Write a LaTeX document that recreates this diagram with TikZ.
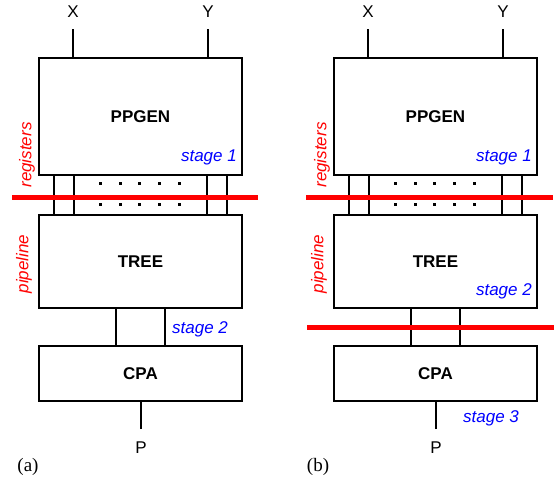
\documentclass[tikz,border=0pt]{standalone}
\usepackage{fontspec}
\setmainfont{Liberation Sans}
\newfontfamily\capfont{Liberation Serif}
\tikzset{
  blk/.style={draw=black, line width=1.6pt, inner sep=0pt, minimum width=203pt, font=\fontsize{17}{19}\selectfont\bfseries},
  wire/.style={draw=black, line width=1.7pt},
  reg/.style={draw=red, line width=5pt},
  stagelbl/.style={text=blue, inner sep=0pt, font=\fontsize{17}{19}\selectfont\itshape},
  redlbl/.style={text=red, inner sep=0pt, rotate=90, font=\fontsize{17}{19}\selectfont\itshape},
  io/.style={inner sep=0pt, font=\fontsize{17}{19}\selectfont},
  panelcap/.style={inner sep=0pt, font=\capfont\fontsize{19}{21}\selectfont},
  sqdot/.style={fill=black, draw=none, minimum size=3pt, inner sep=0pt, rectangle}
}
\begin{document}
\begin{tikzpicture}[x=1pt,y=-1pt]
\useasboundingbox (0,0) rectangle (557,480);
% ---------------- panel (a)
\node[blk, minimum height=117pt] (ppgenA) at (140.5,116.5) {PPGEN};
\node[blk, minimum height=93pt] (treeA) at (140.5,261.5) {TREE};
\node[blk, minimum height=55pt] (cpaA) at (140.5,373.5) {CPA};
\coordinate (xA) at (73,29);
\coordinate (yA) at (208,29);
\coordinate (pA) at (141,429);
\node[io, anchor=base] (xlA) at (73,17) {X};
\node[io, anchor=base] (ylA) at (208,17) {Y};
\node[io, anchor=base] (plA) at (141,453) {P};
\draw[wire] (xA) -- (xA |- ppgenA.north);
\draw[wire] (yA) -- (yA |- ppgenA.north);
\draw[wire] (pA) -- (pA |- cpaA.south);
\foreach \x in {54,74,207,227}
  \draw[wire] (ppgenA.south -| \x,0) -- (treeA.north -| \x,0);
\foreach \x in {116,165}
  \draw[wire] (treeA.south -| \x,0) -- (cpaA.north -| \x,0);
\foreach \x in {100,120,139,159,179} {
  \node[sqdot] at (\x,183) {};
  \node[sqdot] at (\x,204) {};
}
\coordinate (rAl) at (12,197);
\coordinate (rAr) at (258,197);
\draw[reg] (rAl) -- (rAr);
\node[redlbl] (regA) at (27,155) {registers};
\node[redlbl] (pipA) at (24,264) {pipeline};
\node[stagelbl, anchor=base east] (s1A) at (237,161) {stage 1};
\node[stagelbl, anchor=base west] (s2A) at (172,333) {stage 2};
\node[panelcap, anchor=base] (capA) at (28,471) {(a)};
% ---------------- panel (b)
\node[blk, minimum height=117pt] (ppgenB) at (435.5,116.5) {PPGEN};
\node[blk, minimum height=93pt] (treeB) at (435.5,261.5) {TREE};
\node[blk, minimum height=55pt] (cpaB) at (435.5,373.5) {CPA};
\coordinate (xB) at (368,29);
\coordinate (yB) at (503,29);
\coordinate (pB) at (436,429);
\node[io, anchor=base] (xlB) at (368,17) {X};
\node[io, anchor=base] (ylB) at (503,17) {Y};
\node[io, anchor=base] (plB) at (436,453) {P};
\draw[wire] (xB) -- (xB |- ppgenB.north);
\draw[wire] (yB) -- (yB |- ppgenB.north);
\draw[wire] (pB) -- (pB |- cpaB.south);
\foreach \x in {349,369,502,522}
  \draw[wire] (ppgenB.south -| \x,0) -- (treeB.north -| \x,0);
\foreach \x in {411,460}
  \draw[wire] (treeB.south -| \x,0) -- (cpaB.north -| \x,0);
\foreach \x in {395,415,434,454,474} {
  \node[sqdot] at (\x,183) {};
  \node[sqdot] at (\x,204) {};
}
\coordinate (rB1l) at (306,197);
\coordinate (rB1r) at (553,197);
\coordinate (rB2l) at (307,327);
\coordinate (rB2r) at (554,327);
\draw[reg] (rB1l) -- (rB1r);
\draw[reg] (rB2l) -- (rB2r);
\node[redlbl] (regB) at (322,155) {registers};
\node[redlbl] (pipB) at (319,264) {pipeline};
\node[stagelbl, anchor=base east] (s1B) at (532,161) {stage 1};
\node[stagelbl, anchor=base east] (s2B) at (532,295) {stage 2};
\node[stagelbl, anchor=base west] (s3B) at (463,422) {stage 3};
\node[panelcap, anchor=base] (capB) at (318,471) {(b)};
\end{tikzpicture}
\end{document}
